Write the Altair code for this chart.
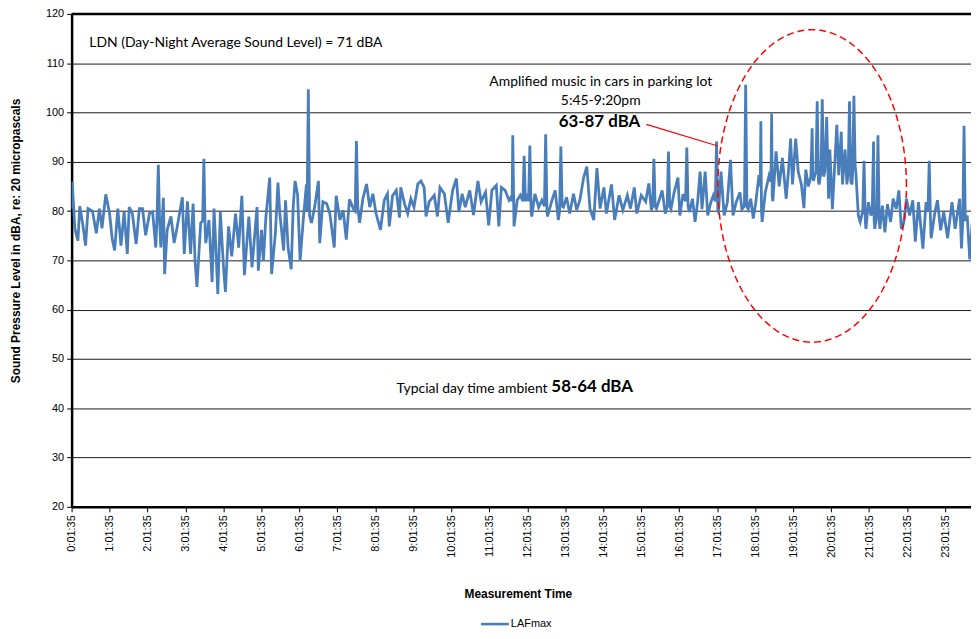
import altair as alt
import pandas as pd
import numpy as np

# minutes elapsed since 0:01:35
minutes = [0,1,5,10,13,18,22,26,33,39,44,48,54,60,64,68,73,78,83,88,91,96,102,107,112,117,123,128,133,137,141,145,147,151,157,162,167,175,178,183,188,192,195,198,204,209,212,217,222,225,227,231,
235,240,243,248,253,259,264,269,273,280,285,293,295,300,303,307,313,316,322,326,329,335,338,342,347,350,353,357,361,366,371,374,379,384,390,392,397,403,408,415,418,424,429,434,439,445,450,455,460,
466,471,476,481,488,494,499,502,507,513,518,520,526,531,536,541,547,552,557,560,565,573,578,582,589,595,602,608,612,617,622,629,635,642,647,654,659,664,671,675,679,685,691,694,697,699,704,
709,715,719,724,727,732,738,743,749,752,759,764,769,773,777,782,787,793,798,803,809,814,819,825,830,835,841,845,853,858,865,871,878,883,889,893,900,907,912,916,920,924,929,933,938,
943,947,952,958,961,966,972,976,981,985,989,993,996,1001,1005,1010,1014,1019,1022,1026,1031,1036,1041,1045,1050,1056,1059,1065,1069,1073,1077,1081,1086,1089,1091,1096,1102,1106,1108,1113,1118,1123,1129,1133,1136,1139,1144,1148,1153,1157,1160,1164,1170,
1172,1178,1181,1186,1190,1193,1196,1198,1202,1209,1212,1216,1218,1222,1225,1229,1233,1236,1239,1243,1246,1252,1255,1259,1263,1267,1269,1274,1277,1281,1285,1289,1294,1298,1303,1307,1311,1315,1319,1324,1329,1333,1338,1345,1350,1355,1358,1364,1368,1373,1378,1384,1391,1396,1403,1406,1410,1415,1419,1423]

lafmax = [80.5,86,76.5,74,81,77,73,80.5,80,75.5,80.5,76.5,83.4,79.5,74.5,72,80.5,73,79.8,71.3,80.8,79.5,73.3,80.5,80.5,75.1,79.5,79.8,72.6,89.4,72.6,82.7,67.2,76.2,78.9,73.5,76.9,82.8,71.3,82,71.3,81.5,70,64.6,77.6,90.6,73.5,78.2,65.6,80.5,75.1,63.2,
79.8,68.6,63.6,76.9,70.8,79.5,72.6,83.1,67,78.9,68.6,80.8,67.9,76.2,69.9,78.9,86.8,67.2,75.5,85.8,79.5,72,82.2,72.6,68.2,80.5,86.1,83.4,69.9,78.2,85.4,104.7,77.6,80.8,86.1,73.5,81.9,81.5,79.5,72.6,83.1,78.2,80.2,74.2,82.4,80.5,94.2,77.6,82.4,
85.5,80.8,83.5,79.5,76.2,82.2,83.5,76.9,83.1,84.2,78.7,84.8,81.5,79.5,82.5,80.8,85.5,86.1,84.8,78.9,81.9,83.2,78.9,84.8,83.5,77.6,84.2,86.6,79.8,83.5,80.8,84.2,79.2,86.1,81.9,83.8,77.1,84.2,85.2,76.9,84.8,84.2,82.2,82.8,95.4,76.9,82.2,
83.2,91.2,83.5,93.3,78.9,83.5,80.8,82.2,95.6,78.9,82.2,84.2,78.2,93.1,80.8,82.8,79.5,83.5,80.2,82.2,86.8,89,80.5,78.2,88.7,80.5,84.8,79.5,85.4,78.2,83.2,80.2,83.2,80.5,84.8,79.5,83.2,81.9,85.6,80.2,90.6,80.5,82.5,84.2,79.5,
92.1,80.4,83.8,86.8,79.1,83.4,92.9,79.8,82.5,77.8,81.8,88,80.4,88,79.1,81.8,83.2,94.1,79.8,88,79.1,81.8,90.4,79.1,81.8,83.8,80.4,105.6,80.4,82.5,78.5,81.8,87.3,98.2,77.8,83.8,87.2,99.8,82,92.1,85,90.8,82.5,88.7,94.7,85.4,94.7,88,85.4,80.6,88.4,85,96.8,
86.1,102.3,85.4,102.7,88,99.1,82.5,92.5,80.4,97.5,87.3,96.1,85.4,92.5,85.4,102.3,85.4,103.4,88,79.1,77.8,90.2,76.4,81.8,79.1,94.1,76.4,95.4,76.4,81.1,75.7,81.4,77.8,82.5,80.4,84.2,76.4,77.8,82.5,79.1,82.2,73.8,81.8,72.4,81.8,90.2,74.5,79.8,82.2,76.1,79.8,74.5,81.8,76.4,82.5,72.4,97.3,79.1,70.2,77.8]

# baseline readings right beside the narrow spikes
flank_minutes = [135,139,207,211,372,376,448,452,696,713,717,722,726,747,751,771,775,918,922,941,945,970,974,1017,1021,1063,1067,1088,1090,1105,1107,1168,1171,1176,1180,1184,1188,1227,1231,1234,1238,1250,1254,1265,1268,1272,1276,1353,1357,1408,1412]
flank_values = [79,78,78,76,80,79,80,81,82,82,82,82,80,81,80,80,81,81,81,81,81,82,81,82,80,81,81,85,80,86,83,87,88,88,86,88,87,88,86,88,89,80,78,80,78,79,78,80,78,78,78]

hour_labels = [f"{h}:01:35" for h in range(24)]
y_ticks = list(range(20, 121, 10))

W, H = 905, 496
XMAX = 1421

df = pd.DataFrame({"m": minutes + flank_minutes, "v": lafmax + flank_values}).sort_values("m")

FONT_AX = "Liberation Sans"
FONT_TX = "Lato"

label_expr = "[" + ",".join(f"'{s}'" for s in hour_labels) + "][floor(datum.value/60)]"

xscale = alt.Scale(domain=[0, XMAX], nice=False, zero=False)
yscale = alt.Scale(domain=[20, 120], nice=False, zero=False)

x_axis = alt.Axis(
    values=[h * 60 for h in range(24)], labelExpr=label_expr, labelAngle=270,
    labelOverlap=False, labelFlush=False, labelBound=False,
    labelFont=FONT_AX, labelFontSize=11, labelColor="#000", labelPadding=3,
    tickColor="#000", tickSize=5, domainColor="#000", domainWidth=2.5, grid=False,
    title="Measurement Time", titleFont=FONT_AX, titleFontSize=12, titleFontWeight="bold",
    titleColor="#000", titleX=449, titleY=87, titleBaseline="middle")
y_axis = alt.Axis(
    values=y_ticks, labelFont=FONT_AX, labelFontSize=11, labelColor="#000", labelPadding=3,
    labelOverlap=False, labelFlush=False,
    tickColor="#000", tickSize=5, domainColor="#000", domainWidth=2.5,
    grid=True, gridColor="#1a1a1a", gridWidth=1,
    title="Sound Pressure Level in dBA, re: 20 micropascals", titleFont=FONT_AX,
    titleFontSize=12, titleFontWeight="bold", titleColor="#000", titleX=-56, titleY=228,
    titleBaseline="middle")

xs = alt.X("m:Q", scale=xscale, axis=x_axis)
ys = alt.Y("v:Q", scale=yscale, axis=y_axis)

line = alt.Chart(df).mark_line(color="#4a7ebb", strokeWidth=2.8, clip=True).encode(x=xs, y=ys)

top = alt.Chart(pd.DataFrame({"v": [120]})).mark_rule(color="#000", strokeWidth=2.5).encode(
    y=ys, x=alt.value(0), x2=alt.value(W))

def text(df_, **kw):
    return alt.Chart(df_).mark_text(**kw).encode(x=xs, y=ys, text="t:N")

REG, BIG = 14, 17
ldn = text(pd.DataFrame({"m": [28], "v": [114], "t": ["LDN (Day-Night Average Sound Level) = 71 dBA"]}),
           align="left", baseline="middle", font=FONT_TX, fontSize=REG, color="#000")
amp1 = text(pd.DataFrame({"m": [836], "v": [106.1], "t": ["Amplified music in cars in parking lot"]}),
            align="center", baseline="middle", font=FONT_TX, fontSize=REG, color="#000")
amp2 = text(pd.DataFrame({"m": [836], "v": [102.3], "t": ["5:45-9:20pm"]}),
            align="center", baseline="middle", font=FONT_TX, fontSize=REG, color="#000")
amp3 = text(pd.DataFrame({"m": [834], "v": [98.0], "t": ["63-87 dBA"]}),
            align="center", baseline="middle", font=FONT_TX, fontSize=BIG, fontWeight="bold", color="#000")
amb1 = text(pd.DataFrame({"m": [752], "v": [44.0], "t": ["Typcial day time ambient"]}),
            align="right", baseline="middle", font=FONT_TX, fontSize=REG, color="#000")
amb2 = text(pd.DataFrame({"m": [758], "v": [44.3], "t": ["58-64 dBA"]}),
            align="left", baseline="middle", font=FONT_TX, fontSize=BIG, fontWeight="bold", color="#000")

pointer = alt.Chart(pd.DataFrame({"m": [908], "v": [97.6], "m2": [1021], "v2": [93.2]})).mark_rule(
    color="#ff0000", strokeWidth=1.2).encode(x=xs, y=ys, x2="m2:Q", y2="v2:Q")

# dashed ellipse annotation (centre / radii in data units)
ell_c = (1170, 85.1)
ell_r = (149, 31.7)
th = np.linspace(0, 2 * np.pi, 181)
ell = pd.DataFrame({"m": ell_c[0] + ell_r[0] * np.cos(th), "v": ell_c[1] + ell_r[1] * np.sin(th), "i": range(len(th))})
ellipse = alt.Chart(ell).mark_line(color="#ff0000", strokeWidth=1.5, strokeDash=[7, 4]).encode(
    x=xs, y=ys, order="i:Q")

# legend
leg_line = alt.Chart(pd.DataFrame({"a": [0]})).mark_rule(color="#4a7ebb", strokeWidth=2.6).encode(
    x=alt.value(412), x2=alt.value(440), y=alt.value(614))
leg_text = alt.Chart(pd.DataFrame({"t": ["LAFmax"]})).mark_text(
    align="left", baseline="middle", font=FONT_AX, fontSize=11, color="#000").encode(
    x=alt.value(442), y=alt.value(614), text="t:N")

chart = alt.layer(line, top, ellipse, pointer, ldn, amp1, amp2, amp3, amb1, amb2, leg_line, leg_text).properties(
    width=W, height=H,
    padding={"left": 64, "top": 4, "right": 0, "bottom": 123},
    autosize=alt.AutoSizeParams(type="none"),
    background="#ffffff",
).configure_view(stroke=None).configure_axis(labelOverlap=False)

chart.save("out.html", embed_options={"renderer": "svg", "actions": False})
